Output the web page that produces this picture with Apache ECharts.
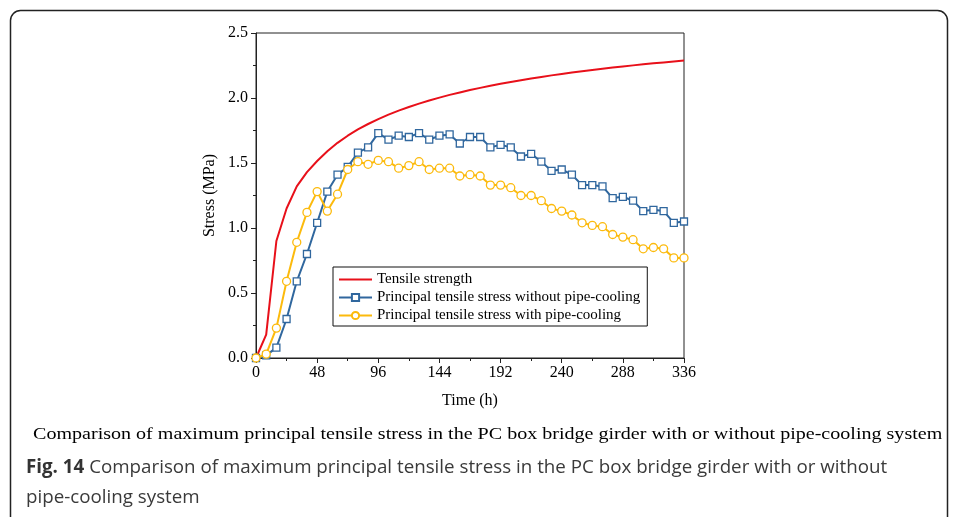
<!DOCTYPE html>
<html>
<head>
<meta charset="utf-8">
<script src="https://cdn.jsdelivr.net/npm/echarts@6/dist/echarts.min.js"></script>
<style>
  html, body { margin: 0; padding: 0; background: #fff; }
  #chart { width: 958px; height: 517px; }
</style>
</head>
<body>
<div id="chart"></div>
<script>
// Time in hours, sampled every 8 h
const hours = [0, 8, 16, 24, 32, 40, 48, 56, 64, 72, 80, 88, 96, 104, 112, 120, 128, 136, 144, 152,
  160, 168, 176, 184, 192, 200, 208, 216, 224, 232, 240, 248, 256, 264, 272, 280, 288, 296, 304,
  312, 320, 328, 336];

// Tensile strength of concrete (MPa)
const tensileStrength = [0, 0.18, 0.90, 1.15, 1.32, 1.43, 1.515, 1.59, 1.655, 1.71, 1.758, 1.80, 1.838,
  1.872, 1.903, 1.931, 1.957, 1.981, 2.003, 2.024, 2.043, 2.061, 2.078, 2.094, 2.109, 2.123, 2.137,
  2.150, 2.162, 2.174, 2.185, 2.196, 2.206, 2.216, 2.225, 2.234, 2.243, 2.251, 2.259, 2.267, 2.274,
  2.281, 2.288];

// Maximum principal tensile stress without pipe-cooling (MPa)
const stressNoCooling = [0, 0.02, 0.08, 0.30, 0.59, 0.80, 1.04, 1.28, 1.41, 1.47, 1.58, 1.62, 1.73,
  1.68, 1.71, 1.70, 1.73, 1.68, 1.71, 1.72, 1.65, 1.70, 1.70, 1.62, 1.64, 1.62, 1.55, 1.57, 1.51,
  1.44, 1.45, 1.41, 1.33, 1.33, 1.32, 1.23, 1.24, 1.21, 1.13, 1.14, 1.13, 1.04, 1.05];

// Maximum principal tensile stress with pipe-cooling (MPa)
const stressWithCooling = [0, 0.03, 0.23, 0.59, 0.89, 1.12, 1.28, 1.13, 1.26, 1.45, 1.51, 1.49, 1.52,
  1.51, 1.46, 1.48, 1.51, 1.45, 1.46, 1.46, 1.40, 1.41, 1.40, 1.33, 1.33, 1.31, 1.25, 1.25, 1.21,
  1.15, 1.13, 1.10, 1.04, 1.02, 1.01, 0.95, 0.93, 0.91, 0.84, 0.85, 0.84, 0.77, 0.77];

const seriesNames = [
  'Tensile strength',
  'Principal tensile stress without pipe-cooling',
  'Principal tensile stress with pipe-cooling'
];

const captionText = 'Comparison of maximum principal tensile stress in the PC box bridge girder with or without pipe-cooling system';
const figLabel = 'Fig. 14';
const figTextLine1 = ' Comparison of maximum principal tensile stress in the PC box bridge girder with or without';
const figTextLine2 = 'pipe-cooling system';

const pair = (ys) => hours.map((h, i) => [h, ys[i]]);

const serif = 'Liberation Serif';
const RED = '#e8101a';
const BLUE = '#30679e';
const YELLOW = '#fcba0c';

const chart = echarts.init(document.getElementById('chart'), null, { renderer: 'canvas' });

chart.setOption({
  backgroundColor: '#fff',
  animation: false,
  grid: {
    left: 256, right: 274, top: 33, bottom: 159,
    show: true, borderColor: '#222', borderWidth: 1, backgroundColor: 'transparent'
  },
  legend: {
    orient: 'vertical',
    left: 333, top: 267,
    padding: [5, 7, 3, 5],
    itemGap: 3,
    itemWidth: 33, itemHeight: 9,
    borderColor: '#111', borderWidth: 1,
    textStyle: { fontFamily: serif, fontSize: 15, color: '#000', lineHeight: 15 },
    data: [
      { name: seriesNames[0], itemStyle: { color: 'rgba(0,0,0,0)', borderWidth: 0 } },
      { name: seriesNames[1] },
      { name: seriesNames[2] }
    ]
  },
  xAxis: {
    type: 'value',
    min: 0, max: 336, interval: 48,
    name: 'Time (h)', nameLocation: 'middle', nameGap: 35,
    nameTextStyle: { fontFamily: serif, fontSize: 16, color: '#000' },
    axisLine: { show: true, lineStyle: { color: '#222', width: 1 } },
    axisTick: { show: true, length: 5, lineStyle: { color: '#222' } },
    minorTick: { show: true, splitNumber: 2, length: 3, lineStyle: { color: '#222' } },
    axisLabel: { fontFamily: serif, fontSize: 16, color: '#000', margin: 7 },
    splitLine: { show: false }
  },
  yAxis: {
    type: 'value',
    min: 0, max: 2.5, interval: 0.5,
    name: 'Stress (MPa)', nameLocation: 'middle', nameGap: 38,
    nameTextStyle: { fontFamily: serif, fontSize: 16, color: '#000' },
    axisLine: { show: true, lineStyle: { color: '#222', width: 1 } },
    axisTick: { show: true, length: 5, lineStyle: { color: '#222' } },
    minorTick: { show: true, splitNumber: 2, length: 3, lineStyle: { color: '#222' } },
    axisLabel: { fontFamily: serif, fontSize: 16, color: '#000', margin: 8,
      formatter: v => v.toFixed(1) },
    splitLine: { show: false }
  },
  series: [
    {
      name: seriesNames[0], type: 'line', data: pair(tensileStrength),
      showSymbol: false, symbol: 'none',
      lineStyle: { color: RED, width: 2 }, itemStyle: { color: RED }, z: 3
    },
    {
      name: seriesNames[1], type: 'line', data: pair(stressNoCooling),
      symbol: 'rect', symbolSize: 7,
      lineStyle: { color: BLUE, width: 2 },
      itemStyle: { color: '#fff', borderColor: BLUE, borderWidth: 1.3 }, z: 4
    },
    {
      name: seriesNames[2], type: 'line', data: pair(stressWithCooling),
      symbol: 'circle', symbolSize: 8,
      lineStyle: { color: YELLOW, width: 2 },
      itemStyle: { color: '#fff', borderColor: YELLOW, borderWidth: 1.3 }, z: 5
    }
  ],
  graphic: [
    {
      type: 'rect', silent: true, z: -10,
      shape: { x: 10.5, y: 10.5, width: 937, height: 540, r: 10 },
      style: { fill: 'none', stroke: '#222', lineWidth: 1.5 }
    },
    {
      type: 'text', x: 33, y: 426, scaleX: 1.18,
      style: { text: captionText, font: '17px "Liberation Serif"', fill: '#000' }
    },
    {
      type: 'text', x: 26, y: 458, scaleX: 0.987,
      style: {
        text: '{b|' + figLabel + '}{n|' + figTextLine1 + '}',
        rich: {
          b: { font: 'bold 19px "Open Sans"', fill: '#333' },
          n: { font: '19px "Open Sans"', fill: '#3a3a3a' }
        }
      }
    },
    {
      type: 'text', x: 26, y: 488, scaleX: 0.987,
      style: { text: figTextLine2, font: '19px "Open Sans"', fill: '#3a3a3a' }
    }
  ]
});
</script>
</body>
</html>
